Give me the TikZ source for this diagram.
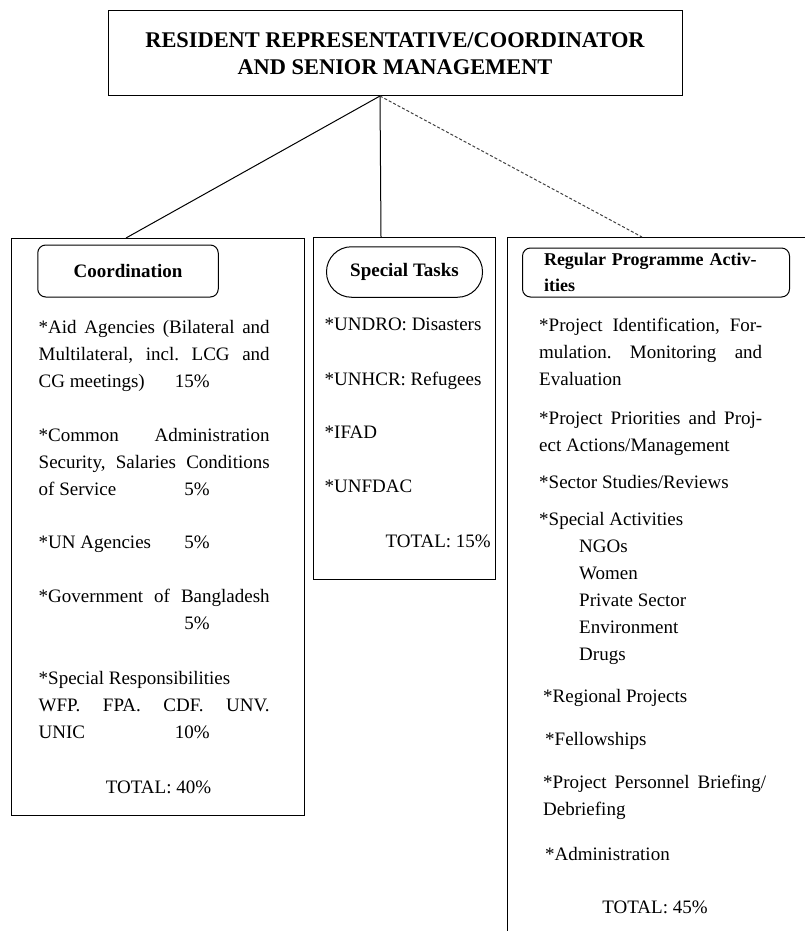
\documentclass[tikz,border=0pt]{standalone}
\usepackage{fontspec}
\setmainfont{Liberation Serif}
\frenchspacing

\newcommand{\titlefont}{\fontsize{22.4}{27.3}\selectfont\bfseries}
\newcommand{\headfont}{\fontsize{19}{26}\selectfont\bfseries}
\newcommand{\bodyfont}{\fontsize{19}{27}\selectfont}
\newcommand{\coordrow}[1]{\makebox[231pt][s]{#1}}
\newcommand{\progrow}[1]{\makebox[223pt][s]{#1}}
\newcommand{\pctrow}[2]{\makebox[0pt][l]{#1}\makebox[171pt][r]{#2}}

\tikzset{
  boxline/.style={draw, line width=1pt},
  link/.style={line width=1pt},
  titlebox/.style={boxline, minimum width=574pt, minimum height=85pt, align=center, font=\titlefont, inner sep=0pt},
  colbox/.style={boxline, anchor=north west, inner sep=0pt},
  headbox/.style={boxline, rounded corners=8pt, font=\headfont, inner sep=0pt},
  itemtext/.style={anchor=base west, align=left, font=\bodyfont, inner sep=0pt}
}

\begin{document}
\begin{tikzpicture}[x=1pt,y=-1pt]
  \useasboundingbox (0,0) rectangle (805,931);

  \node[titlebox] (resrep) at (395,53.5) {RESIDENT REPRESENTATIVE/COORDINATOR\\AND SENIOR MANAGEMENT};

  % the three columns
  \node[colbox, minimum width=293pt, minimum height=577pt] (coordcol) at (11,238) {};
  \node[colbox, minimum width=182pt, minimum height=342pt] (taskcol) at (313,237) {};
  \coordinate (progfoot) at (507,931);
  \coordinate (progtop) at (507,237);
  \coordinate (progend) at (805,237);
  \draw[boxline] (progfoot) -- (progtop) -- (progend);

  \coordinate (apex) at (380,96);
  \coordinate (coordjoin) at (126,238);
  \coordinate (taskjoin) at (381,237);
  \coordinate (progjoin) at (642,237);
  \draw[link] (apex) -- (coordjoin);
  \draw[link] (apex) -- (taskjoin);
  \draw[link, black!75, dash pattern=on 3pt off 2pt] (apex) -- (progjoin);

  \node[headbox, minimum width=180.5pt, minimum height=52pt] (coordhead) at (128,271) {Coordination};
  \node[headbox, rounded corners=25pt, minimum width=156pt, minimum height=50.5pt] (taskhead) at (404.5,272) {Special Tasks};
  \node[headbox, font=\fontsize{18}{26}\selectfont\bfseries, minimum width=267pt, minimum height=49pt, text width=224pt, align=left] (proghead) at (656,272.5) {\makebox[222pt][s]{Regular Programme Activ-}\\ities};

  % coordination (positions are the baselines of the last lines)
  \node[itemtext] (aid) at (38.5,387) {\coordrow{*Aid Agencies (Bilateral and}\\\coordrow{Multilateral, incl. LCG and}\\\pctrow{CG meetings)}{15\%}};
  \node[itemtext] (common) at (38.5,495) {\coordrow{*Common Administration}\\\coordrow{Security, Salaries Conditions}\\\pctrow{of Service}{5\%}};
  \node[itemtext] (unag) at (38.5,548) {\pctrow{*UN Agencies}{5\%}};
  \node[itemtext] (gov) at (38.5,629.7) {\coordrow{*Government of Bangladesh}\\\pctrow{}{5\%}};
  \node[itemtext] (specresp) at (38.5,738.6) {*Special Responsibilities\\\coordrow{WFP. FPA. CDF. UNV.}\\\pctrow{UNIC}{10\%}};
  \node[anchor=base, font=\bodyfont, inner sep=0pt] (coordtotal) at (158.5,793) {TOTAL: 40\%};

  % special tasks
  \foreach \t/\y/\n in {{UNDRO: Disasters}/330/undro, {UNHCR: Refugees}/385/unhcr, IFAD/438.5/ifad, UNFDAC/492/unfdac}
    \node[itemtext] (\n) at (324.5,\y) {*\t};
  \node[anchor=base east, font=\bodyfont, inner sep=0pt] (tasktotal) at (491,547) {TOTAL: 15\%};

  % regular programme activities
  \node[itemtext] (projid) at (539,385) {\progrow{*Project Identification, For-}\\\progrow{mulation. Monitoring and}\\Evaluation};
  \node[itemtext] (projprio) at (539,451.6) {\progrow{*Project Priorities and Proj-}\\ect Actions/Management};
  \node[itemtext] (sector) at (539,488) {*Sector Studies/Reviews};
  \node[itemtext] (specact) at (539,660.6) {*Special Activities\\\hspace*{40pt}NGOs\\\hspace*{40pt}Women\\\hspace*{40pt}Private Sector\\\hspace*{40pt}Environment\\\hspace*{40pt}Drugs};
  \node[itemtext] (regional) at (543,702.7) {*Regional Projects};
  \node[itemtext] (fellow) at (545,745.5) {*Fellowships};
  \node[itemtext] (briefing) at (543,815.6) {\progrow{*Project Personnel Briefing/}\\Debriefing};
  \node[itemtext] (admin) at (545,860) {*Administration};
  \node[anchor=base, font=\bodyfont, inner sep=0pt] (progtotal) at (655,913.6) {TOTAL: 45\%};
\end{tikzpicture}
\end{document}
